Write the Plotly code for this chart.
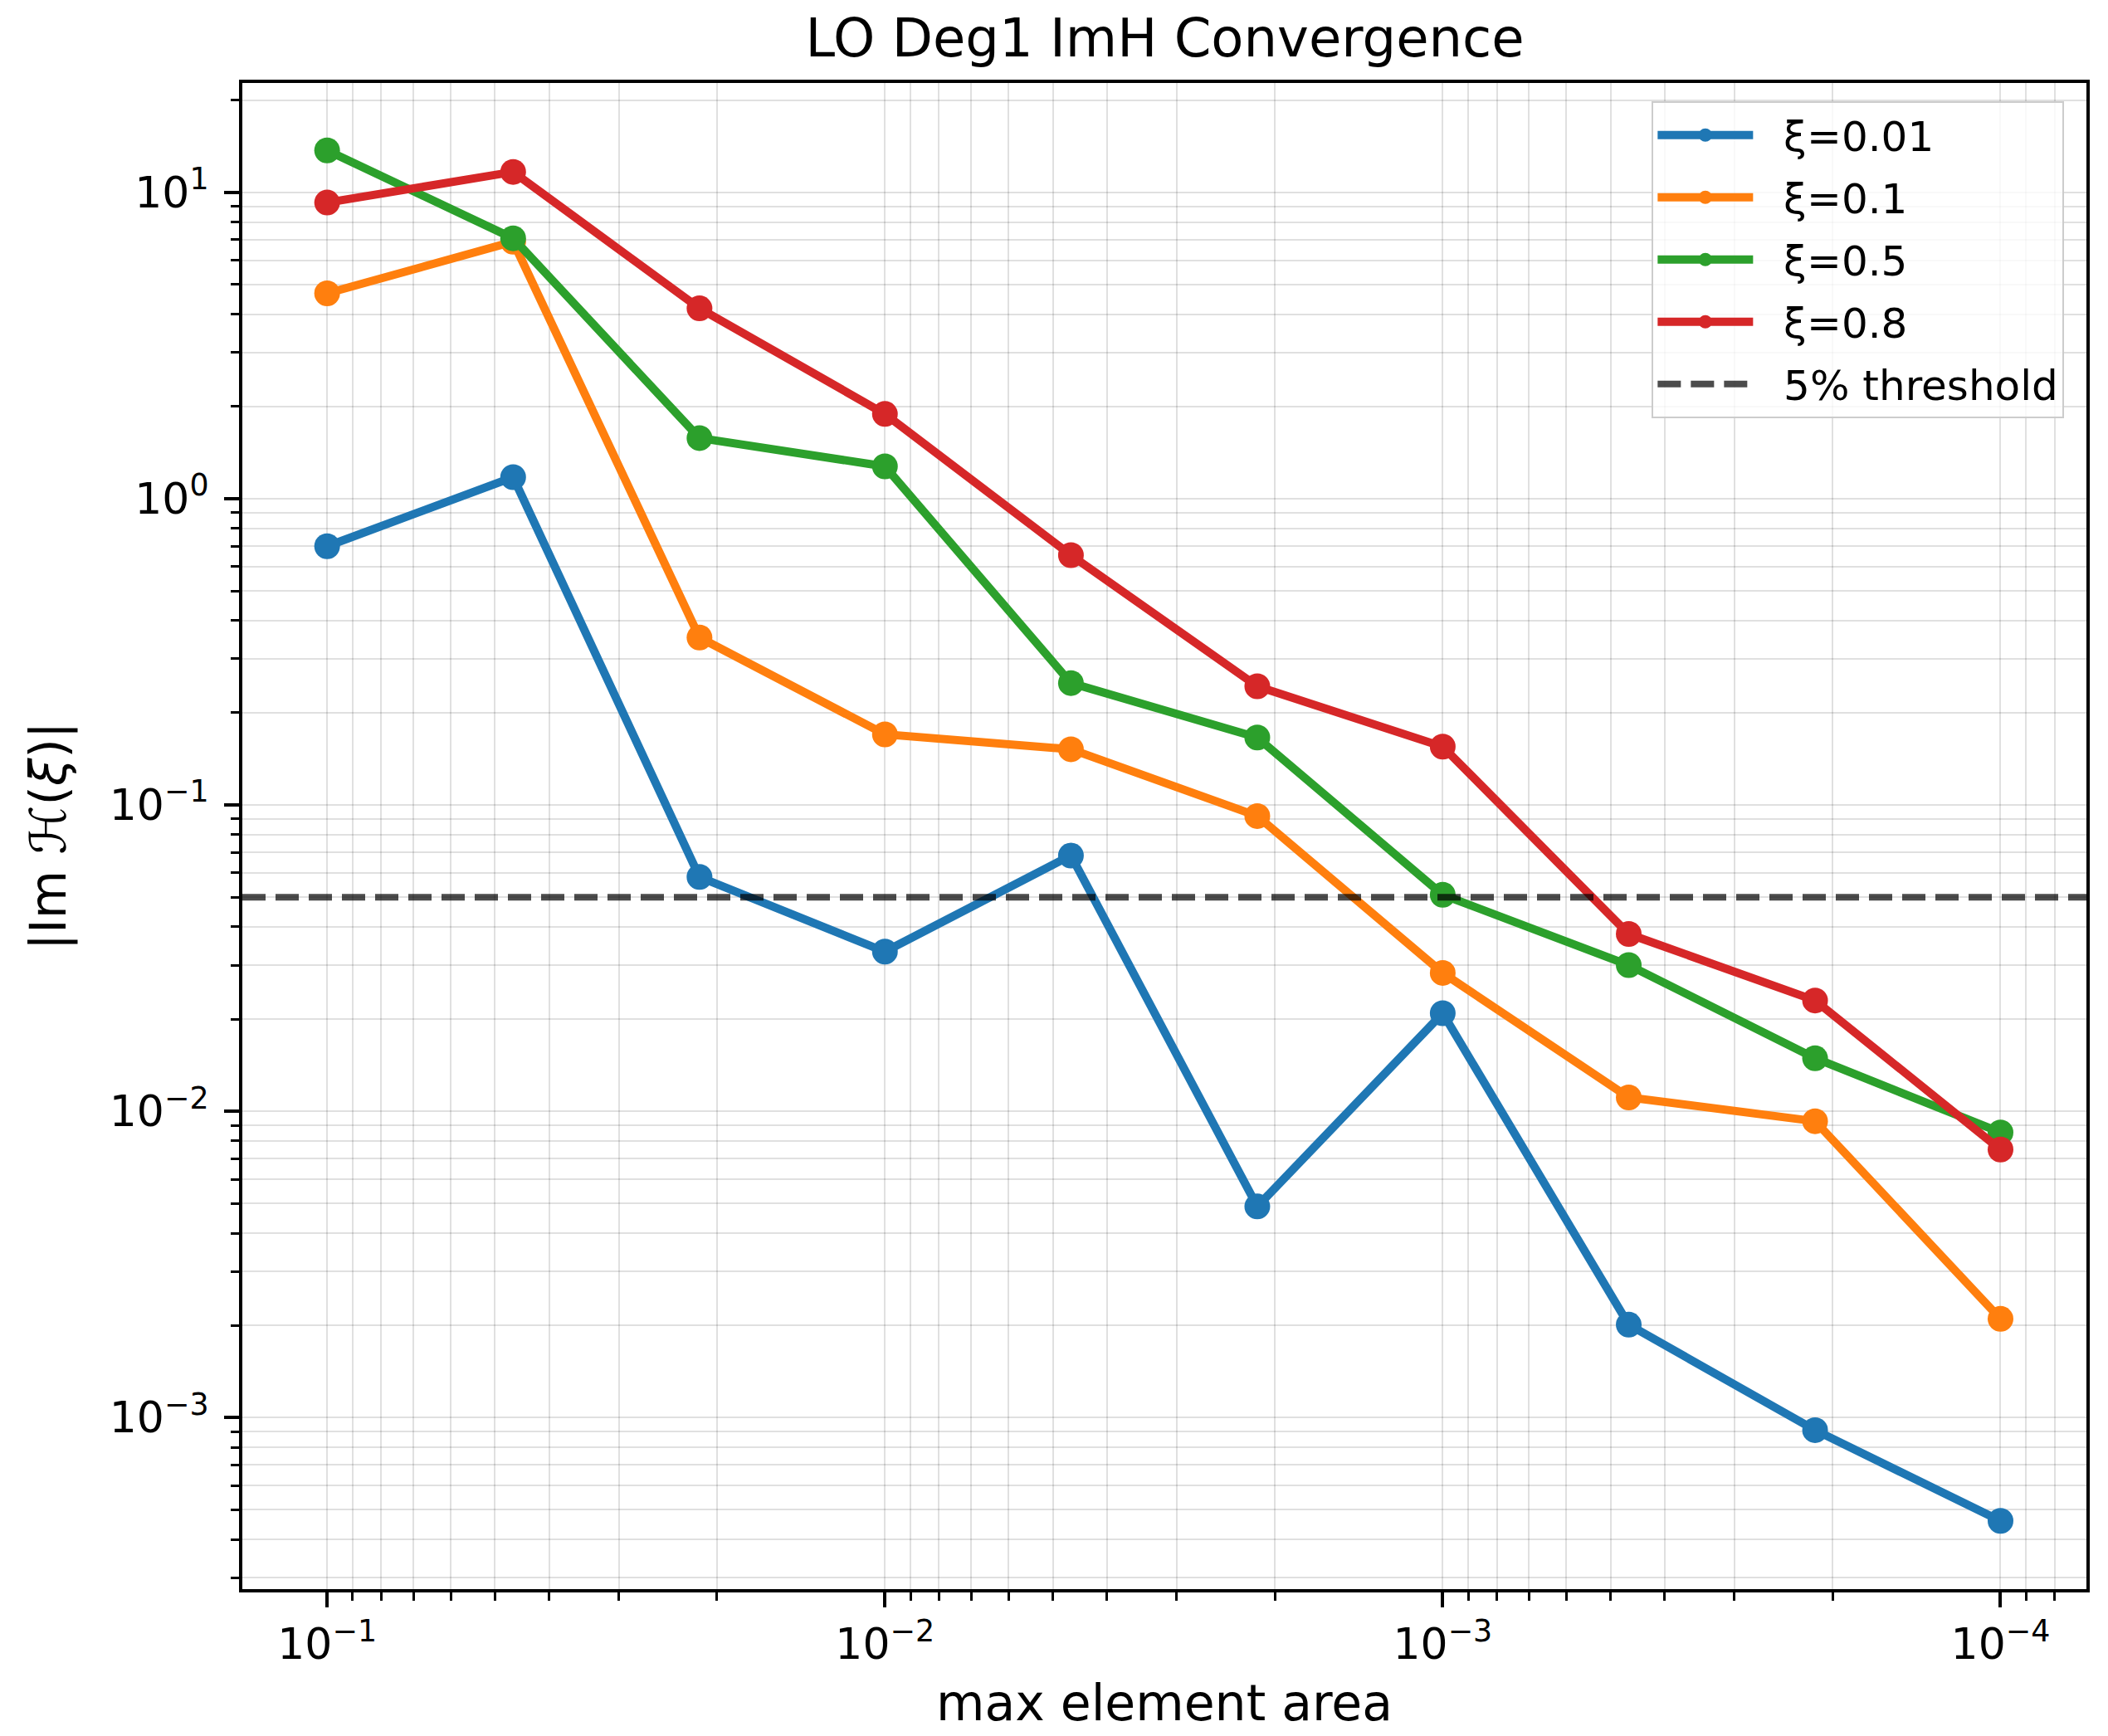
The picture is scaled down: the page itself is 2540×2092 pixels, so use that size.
import plotly.graph_objects as go

# Mesh refinement levels (max element area) and |Im H(xi)| per xi value
max_area = [1e-1, 4.64e-2, 2.15e-2, 1e-2, 4.64e-3, 2.15e-3, 1e-3, 4.64e-4, 2.15e-4, 1e-4]

im_h_xi_001 = [0.699, 1.175, 0.0582, 0.0332, 0.0684, 0.00489, 0.0209, 0.00201, 0.00091, 0.00046]
im_h_xi_01 = [4.68, 6.9, 0.352, 0.170, 0.152, 0.092, 0.0283, 0.0111, 0.00928, 0.0021]
im_h_xi_05 = [13.7, 7.08, 1.577, 1.275, 0.250, 0.166, 0.0509, 0.0300, 0.0149, 0.00853]
im_h_xi_08 = [9.26, 11.66, 4.18, 1.89, 0.654, 0.244, 0.155, 0.0379, 0.0230, 0.0075]

series_names = ["ξ=0.01", "ξ=0.1", "ξ=0.5", "ξ=0.8"]
series_values = [im_h_xi_001, im_h_xi_01, im_h_xi_05, im_h_xi_08]
series_colors = ["#1f77b4", "#ff7f0e", "#2ca02c", "#d62728"]

threshold = 0.05
threshold_label = "5% threshold"

x_tick_vals = [1e-1, 1e-2, 1e-3, 1e-4]
x_tick_text = ["10<sup>−1</sup>", "10<sup>−2</sup>", "10<sup>−3</sup>", "10<sup>−4</sup>"]
y_tick_vals = [1e-3, 1e-2, 1e-1, 1e0, 1e1]
y_tick_text = ["10<sup>−3</sup>", "10<sup>−2</sup>", "10<sup>−1</sup>", "10<sup>0</sup>", "10<sup>1</sup>"]

FONT = "DejaVu Sans"
GRID = "rgba(0,0,0,0.12)"
LEGEND_PAD = "  "  # space between legend sample and its label


def minor_vals(lo_exp, hi_exp):
    vals = []
    for e in range(lo_exp, hi_exp + 1):
        for m in range(2, 10):
            vals.append(m * 10.0 ** e)
    return vals


fig = go.Figure()

for i, (name, vals, color) in enumerate(zip(series_names, series_values, series_colors)):
    fig.add_trace(go.Scatter(
        x=max_area, y=vals, name=LEGEND_PAD + name, mode="lines+markers",
        line=dict(color=color, width=10),
        marker=dict(color=color, size=31),
        legendgroup=f"g{i}",
    ))

# horizontal reference line spanning the full plot width (on a hidden [0, 1] axis)
fig.add_trace(go.Scatter(
    x=[0, 1], y=[threshold, threshold], name=LEGEND_PAD + threshold_label, mode="lines",
    xaxis="x2", line=dict(color="rgba(0,0,0,0.7)", width=8, dash="28px,12px"),
    legendgroup="g4",
))

axis_common = dict(
    type="log", showline=True, linecolor="black", linewidth=4, mirror=True,
    ticks="outside", ticklen=18, tickwidth=4, tickcolor="black",
    showgrid=True, gridcolor=GRID, gridwidth=2, zeroline=False,
    tickfont=dict(family=FONT, size=52, color="black"),
)

fig.update_layout(
    width=2540, height=2092,
    margin=dict(l=292, r=26, t=100, b=177),
    paper_bgcolor="white", plot_bgcolor="white",
    font=dict(family=FONT, color="black"),
    title=dict(text="LO Deg1 ImH Convergence", x=0.5526, xanchor="center",
               y=0.9675, yanchor="bottom",
               font=dict(family=FONT, size=64, color="black")),
    xaxis=dict(
        **axis_common,
        range=[-0.848, -4.154],
        tickvals=x_tick_vals, ticktext=x_tick_text,
        minor=dict(tickvals=minor_vals(-5, -1), ticks="outside", ticklen=10,
                   tickwidth=3, tickcolor="black", showgrid=True,
                   gridcolor=GRID, gridwidth=2),
        title=dict(text="max element area", standoff=22,
                   font=dict(family=FONT, size=60, color="black")),
    ),
    xaxis2=dict(range=[0, 1], overlaying="x", visible=False, showgrid=False),
    yaxis=dict(
        **axis_common,
        range=[-3.56, 1.357],
        tickvals=y_tick_vals, ticktext=y_tick_text,
        ticklabelstandoff=8,
        minor=dict(tickvals=minor_vals(-4, 1), ticks="outside", ticklen=10,
                   tickwidth=3, tickcolor="black", showgrid=True,
                   gridcolor=GRID, gridwidth=2),
        title=dict(text="|Im ℋ(<i>ξ</i>)|", standoff=34,
                   font=dict(family=FONT, size=60, color="black")),
    ),
    legend=dict(
        x=0.988, y=0.988, xanchor="right", yanchor="top",
        bgcolor="rgba(255,255,255,0.8)", bordercolor="#cccccc", borderwidth=2,
        font=dict(family=FONT, size=50, color="black"),
        itemwidth=115, tracegroupgap=7,
    ),
    showlegend=True,
)

fig.write_html("out.html")
